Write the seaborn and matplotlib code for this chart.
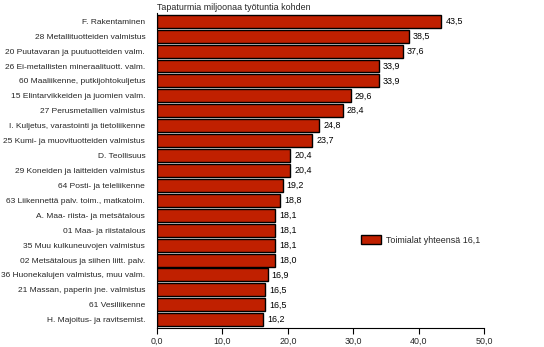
import matplotlib
matplotlib.use("Agg")
import matplotlib.pyplot as plt
import seaborn as sns
import pandas as pd
from matplotlib.patches import Patch

categories = [
    "F. Rakentaminen",
    "28 Metallituotteiden valmistus",
    "20 Puutavaran ja puutuotteiden valm.",
    "26 Ei-metallisten mineraalituott. valm.",
    "60 Maaliikenne, putkijohtokuljetus",
    "15 Elintarvikkeiden ja juomien valm.",
    "27 Perusmetallien valmistus",
    "I. Kuljetus, varastointi ja tietoliikenne",
    "25 Kumi- ja muovituotteiden valmistus",
    "D. Teollisuus",
    "29 Koneiden ja laitteiden valmistus",
    "64 Posti- ja teleliikenne",
    "63 Liikennettä palv. toim., matkatoim.",
    "A. Maa- riista- ja metsätalous",
    "01 Maa- ja riistatalous",
    "35 Muu kulkuneuvojen valmistus",
    "02 Metsätalous ja siihen liitt. palv.",
    "36 Huonekalujen valmistus, muu valm.",
    "21 Massan, paperin jne. valmistus",
    "61 Vesiliikenne",
    "H. Majoitus- ja ravitsemist.",
]
values = [43.5, 38.5, 37.6, 33.9, 33.9, 29.6, 28.4, 24.8, 23.7, 20.4, 20.4,
          19.2, 18.8, 18.1, 18.1, 18.1, 18.0, 16.9, 16.5, 16.5, 16.2]
x_ticks = [0, 10, 20, 30, 40, 50]
total_label = "Toimialat yhteensä 16,1"
title = "Tapaturmia miljoonaa työtuntia kohden"

BAR = "#C02000"

sns.set_theme(style="white")
plt.rcParams["font.family"] = ["Liberation Sans", "DejaVu Sans"]
FS = 6.4       # title, values, ticks, legend
FS_CAT = 6.05  # category labels

df = pd.DataFrame({"ala": categories, "arvo": values})

fig = plt.figure(figsize=(5.44, 3.47), dpi=100)
ax = fig.add_axes([0.2886, 0.0548, 0.601, 0.9077])

sns.barplot(data=df, y="ala", x="arvo", orient="h", color=BAR,
            edgecolor="black", linewidth=1.0, width=0.87, saturation=1,
            ax=ax)

ax.bar_label(ax.containers[0],
             labels=[f"{v:.1f}".replace(".", ",") for v in values],
             padding=3, fontsize=FS, color="black")

ax.set_xlim(0, 50)
ax.set_ylim(len(categories) - 0.45, -0.55)
ax.set_xticks(x_ticks)
ax.set_xticklabels([f"{t:.1f}".replace(".", ",") for t in x_ticks], fontsize=FS)
ax.tick_params(axis="x", bottom=True, length=4, width=0.8, color="black",
               pad=2, labelsize=FS)
ax.tick_params(axis="y", left=False, pad=2.5, labelsize=FS_CAT)
ax.set_xlabel("")
ax.set_ylabel("")

for side in ("top", "right"):
    ax.spines[side].set_visible(False)
for side in ("left", "bottom"):
    ax.spines[side].set_color("black")
    ax.spines[side].set_linewidth(0.8)

ax.text(0, 1.003, title, transform=ax.transAxes, fontsize=FS,
        ha="left", va="bottom")

handle = Patch(facecolor=BAR, edgecolor="black", linewidth=1.0)
ax.legend([handle], [total_label], loc="center left",
          bbox_to_anchor=(0.6, 0.28), frameon=False, fontsize=FS,
          handlelength=2.2, handleheight=1.2, handletextpad=0.6)

fig.savefig("out.png", dpi=100)
